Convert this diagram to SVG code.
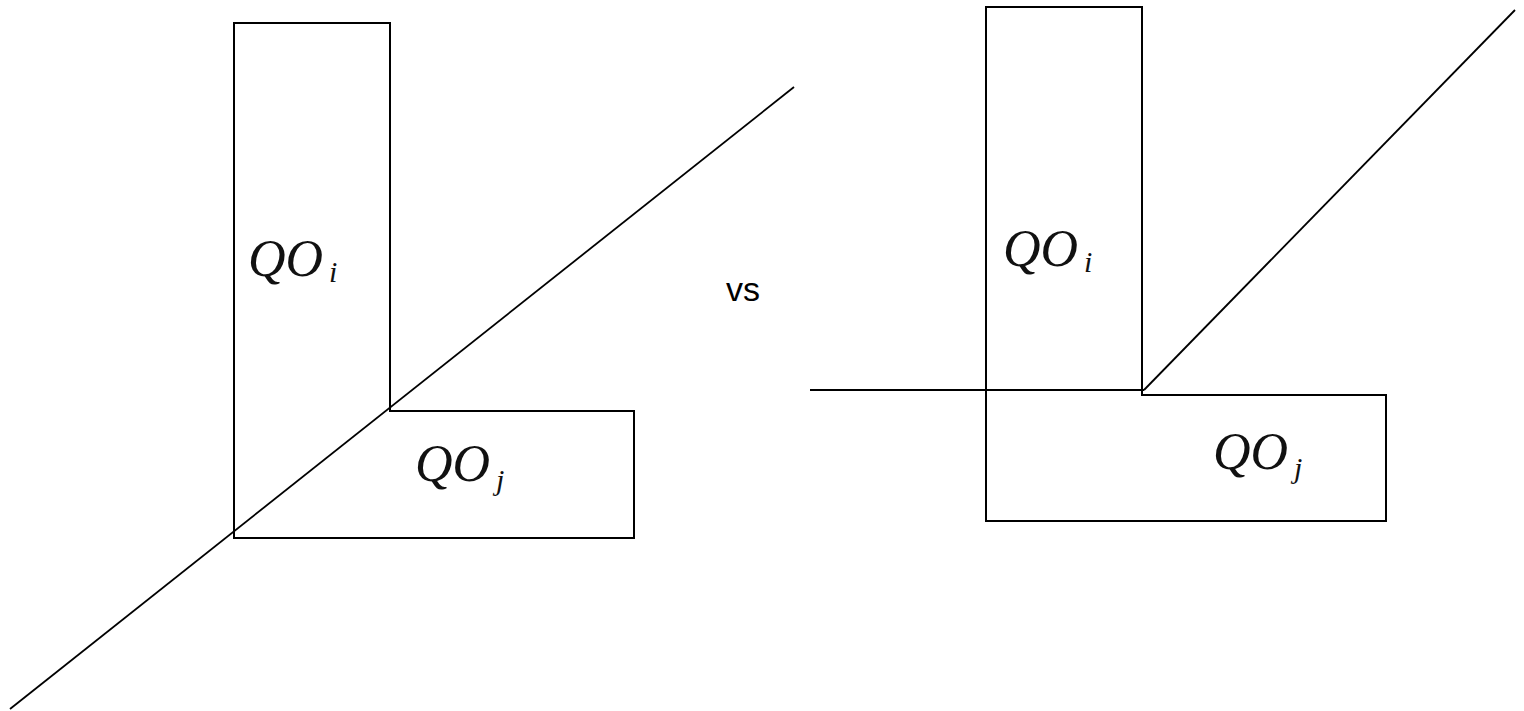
<svg xmlns="http://www.w3.org/2000/svg" width="1524" height="711" viewBox="0 0 1524 711">
<style>
.s{fill:none;stroke:#000;stroke-width:2}
.l{fill:none;stroke:#000;stroke-width:1.8}
.q{font-family:"Liberation Serif",serif;font-style:italic;font-size:52px;fill:#111}
.sub{font-family:"Liberation Serif",serif;font-style:italic;font-size:30px;fill:#111}
.vs{font-family:"Liberation Sans",sans-serif;font-size:34px;fill:#000}
</style>
<rect width="1524" height="711" fill="#fff"/>
<g id="left-shape">
<polygon class="s" points="234,23 390,23 390,411 634,411 634,538 234,538"/>
<text class="q" x="248" y="276">QO<tspan class="sub" dx="6" dy="6">i</tspan></text>
<text class="q" x="415" y="481">QO<tspan class="sub" dx="6" dy="9">j</tspan></text>
</g>
<g id="right-shape">
<polygon class="s" points="986,7 1142,7 1142,395 1386,395 1386,521 986,521"/>
<text class="q" x="1003" y="266">QO<tspan class="sub" dx="6" dy="6">i</tspan></text>
<text class="q" x="1213" y="469">QO<tspan class="sub" dx="6" dy="9">j</tspan></text>
</g>
<g id="label-vs">
<text class="vs" x="726" y="301">vs</text>
</g>
<g id="connectors">
<line class="l" x1="10" y1="709" x2="794" y2="87"/>
<line class="l" x1="810" y1="390" x2="1144" y2="390"/>
<line class="l" x1="1144" y1="390" x2="1515" y2="10"/>
</g>
</svg>
